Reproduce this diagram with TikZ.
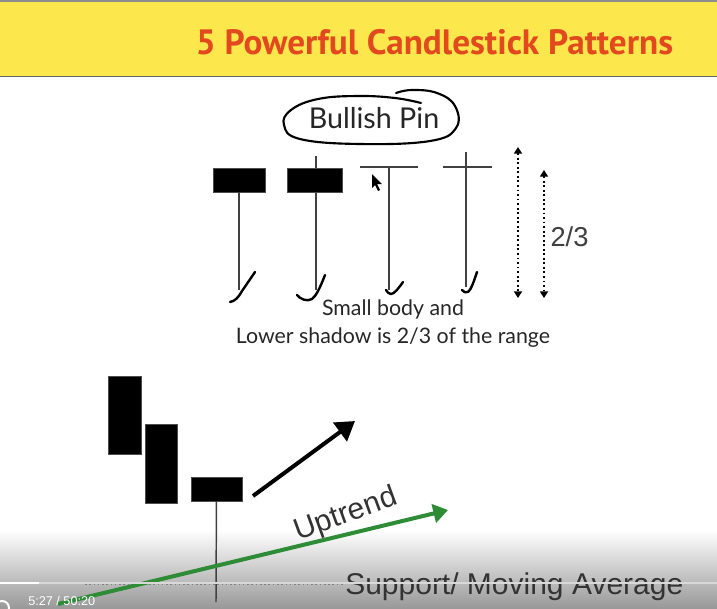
\documentclass[tikz,border=0pt]{standalone}
\usepackage{fontspec}
\setmainfont{Lato}
\newfontfamily\titlefont{PT Sans}
\newfontfamily\helvfont{Liberation Sans}
\usetikzlibrary{positioning,arrows.meta,calc}
\definecolor{banner}{HTML}{FCE84C}
\definecolor{titlered}{HTML}{E2491F}
\definecolor{trendgreen}{HTML}{2E8B36}
\tikzset{>=Triangle}
\tikzset{
  body/.style={fill=black, draw=black!70, inner sep=0pt, thin},
  wick/.style={draw=black!75, line width=1.1pt},
  hook/.style={line width=1.8pt, line cap=round, line join=round},
  rangearrow/.style={dotted, line width=1.4pt, <->, >={Triangle[length=5pt,width=6pt]}},
  slidetext/.style={font=\fontsize{16}{21}\selectfont, text=black!85, align=center},
  helvtext/.style={font=\helvfont\fontsize{22.5}{26}\selectfont, text=black!80, inner sep=0pt},
}
\begin{document}
\begin{tikzpicture}[x=0.75pt,y=-0.75pt]
  \useasboundingbox (0,0) rectangle (717,608);
  \clip (0,0) rectangle (717,608);
  % banner
  \fill[banner] (0,0) rectangle (717,76);
  \fill[black!45] (0,0) rectangle (717,2);
  \draw[black!60, line width=1.2pt] (0,76.5) -- (717,76.5);
  \node[font=\titlefont\bfseries\fontsize{26.4}{30}\selectfont, text=titlered] (title) at (434.5,42) {5 Powerful Candlestick Patterns};
  % player shade
  \shade[top color=white, bottom color=black!40] (0,530) rectangle (717,608);

  % circled heading
  \node[font=\fontsize{21.5}{25}\selectfont, text=black!85] (pin) at (374,118) {Bullish Pin};
  \draw[line width=1.6pt, line cap=round] plot[smooth, tension=0.7] coordinates
    {(421,103) (395,98) (358,96) (318,99) (291,110) (284,125) (300,139) (360,144) (430,141) (456,128) (455,106) (437,93) (412,90) (396,93)};

  % pin bars
  \coordinate (topB) at (316,156);
  \draw[wick] (topB) -- (316,290);
  \node[body, minimum width=39pt, minimum height=18pt] (bodyA) at (239,180) {};
  \node[body, minimum width=41pt, minimum height=18pt] (bodyB) at (315,180) {};
  \coordinate (tailA) at (239,290);
  \draw[wick] (bodyA) -- (tailA);
  \coordinate (dojiC) at (389,167);
  \draw[wick] (360,167) -- (418,167);
  \draw[wick] (dojiC) -- (389,290);
  \coordinate (dojiD) at (466,167);
  \draw[wick] (443,167) -- (492,167);
  \draw[wick] (466,152) -- (466,287);

  % hand drawn hooks
  \draw[hook] (255,272) -- (242,291) .. controls (238,298) and (235,301) .. (230,302);
  \draw[hook] (325,275) .. controls (320,288) and (316,296) .. (312,299) .. controls (307,302) and (300,299) .. (297,295);
  \draw[hook] (403,282) .. controls (398,289) and (394,294) .. (391,294) .. controls (389,294) and (387,292) .. (386,290);
  \draw[hook] (477,272) .. controls (474,281) and (471,290) .. (468,292) .. controls (466,293) and (463,292) .. (462,290);

  % cursor
  \fill[black] (372,174) -- (372,188) -- (375,185) -- (378,191) -- (380,190) -- (377,184) -- (382,184) -- cycle;

  % range arrows
  \foreach \x/\y in {518/147, 544/170}
    \draw[rangearrow] (\x,\y) -- (\x,298);
  \node[font=\helvfont\fontsize{20.5}{24}\selectfont, text=black!75] (frac) at (569.5,237) {2/3};

  \node[slidetext] (note) at (393,324) {Small body and\\Lower shadow is 2/3 of the range};

  % bottom candles
  \node[body, minimum width=24.5pt, minimum height=58.5pt] (downA) at (124.5,415) {};
  \node[body, minimum width=24pt, minimum height=59pt] (downB) at (161,463.5) {};
  \node[body, minimum width=38pt, minimum height=18pt] (pinC) at (216.5,489) {};
  \coordinate (pinTail) at (216,602);
  \draw[wick] (pinC) -- (pinTail);

  % support
  \coordinate (supL) at (85,584);
  \coordinate (supR) at (343,584);
  \draw[black!50, dotted, line width=1.2pt] (supL) -- (supR);
  \node[helvtext, anchor=west] (support) at (345,587) {Support/ Moving Average};

  % arrows
  \coordinate (upS) at (253,496);
  \coordinate (upE) at (355,421);
  \draw[line width=3pt, -{Triangle[length=14pt,width=17pt]}] (upS) -- (upE);
  \coordinate (grS) at (58,604);
  \coordinate (grE) at (448,510);
  \draw[trendgreen, line width=3pt, -{Triangle[length=11pt,width=14pt]}] (grS) -- (grE);
  \node[helvtext, rotate=20] (uptrend) at (346,515) {Uptrend};

  % player bar
  \draw[white!85!black, line width=1pt] (0,583) -- (717,583);
  \draw[white, line width=2.2pt] (0,583) -- (39,583);
  \draw[white, line width=1.5pt] (2,608) circle (7);
  \node[font=\helvfont\fontsize{9.5}{11}\selectfont, text=white, anchor=north west, inner sep=0pt] (clock) at (28,596) {5:27 / 50:20};
\end{tikzpicture}
\end{document}
